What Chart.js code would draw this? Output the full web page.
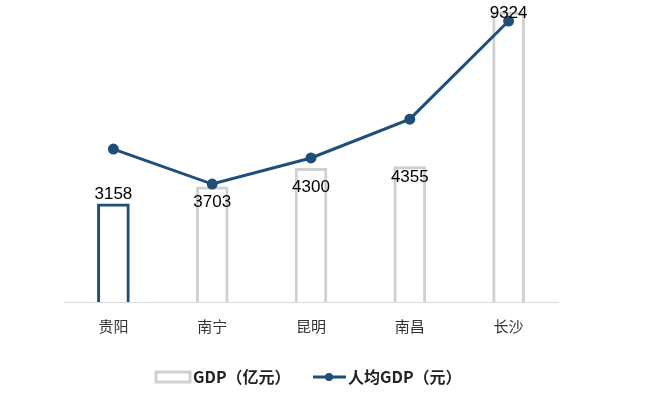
<!DOCTYPE html>
<html lang="zh">
<head>
    <meta charset="UTF-8">
    <title>GDP</title>
    <script src="https://cdn.jsdelivr.net/npm/chart.js"></script>
    <style>
        html, body { margin: 0; padding: 0; background: #fff; }
    </style>
</head>
<body>
    <canvas id="gdpChart" width="657" height="394"></canvas>
    <script>
        // 数据
        const cities = ['贵阳', '南宁', '昆明', '南昌', '长沙'];
        const gdp = [3158, 3703, 4300, 4355, 9324];            // 亿元
        const gdpPerCapita = [70900, 54700, 66800, 84800, 130300]; // 元

        const blue = '#1F4E79';
        const gray = '#D0D0D0';
        const cjk = '"Noto Sans CJK SC", "Noto Sans", sans-serif';

        // 标签的手动偏移（相对柱顶）
        const labelShift = [-9, 15, 19, 11, 1];

        const labelPlugin = {
            id: 'barLabels',
            afterDatasetsDraw(chart) {
                const ctx = chart.ctx;
                const meta = chart.getDatasetMeta(0);
                ctx.save();
                ctx.font = '17px "Liberation Sans", Arial, sans-serif';
                ctx.fillStyle = '#000';
                ctx.textAlign = 'center';
                ctx.textBaseline = 'middle';
                meta.data.forEach((bar, i) => {
                    ctx.fillText(String(gdp[i]), bar.x, bar.y + labelShift[i]);
                });
                ctx.restore();
            }
        };

        // 底部图例
        const legendPlugin = {
            id: 'customLegend',
            afterDraw(chart) {
                const ctx = chart.ctx;
                const y = 377;
                ctx.save();
                ctx.strokeStyle = gray;
                ctx.lineWidth = 3;
                ctx.strokeRect(156, y - 5, 34, 10);
                ctx.font = 'bold 16px ' + cjk;
                ctx.fillStyle = '#222';
                ctx.textBaseline = 'middle';
                ctx.fillText('GDP（亿元）', 193, y);

                ctx.strokeStyle = blue;
                ctx.beginPath();
                ctx.moveTo(313, y);
                ctx.lineTo(346, y);
                ctx.stroke();
                ctx.fillStyle = blue;
                ctx.beginPath();
                ctx.arc(329, y, 4, 0, Math.PI * 2);
                ctx.fill();
                ctx.fillStyle = '#222';
                ctx.fillText('人均GDP（元）', 348, y);
                ctx.restore();
            }
        };

        const ctx = document.getElementById('gdpChart').getContext('2d');
        new Chart(ctx, {
            data: {
                labels: cities,
                datasets: [
                    {
                        type: 'bar',
                        label: 'GDP（亿元）',
                        data: gdp,
                        backgroundColor: '#ffffff',
                        borderColor: gdp.map((v, i) => i === 0 ? blue : gray),
                        borderWidth: 3,
                        borderSkipped: 'bottom',
                        barThickness: 32,
                        yAxisID: 'y',
                        order: 2
                    },
                    {
                        type: 'line',
                        label: '人均GDP（元）',
                        data: gdpPerCapita,
                        borderColor: blue,
                        backgroundColor: blue,
                        borderWidth: 3,
                        pointRadius: 4,
                        pointHoverRadius: 4,
                        tension: 0,
                        yAxisID: 'y1',
                        order: 1
                    }
                ]
            },
            options: {
                responsive: false,
                animation: false,
                layout: {
                    padding: { left: 64, right: 99, top: 0, bottom: 58 }
                },
                plugins: {
                    legend: { display: false },
                    tooltip: { enabled: false }
                },
                scales: {
                    x: {
                        grid: { display: false, drawTicks: false },
                        border: { color: '#D9D9D9', width: 1 },
                        ticks: {
                            color: '#333',
                            padding: 15,
                            font: { family: cjk, size: 15 }
                        },
                        afterFit(scale) { scale.height = 34; }
                    },
                    y: {
                        display: false,
                        min: 0,
                        max: 9485
                    },
                    y1: {
                        display: false,
                        min: 0,
                        max: 136800
                    }
                }
            },
            plugins: [labelPlugin, legendPlugin]
        });
    </script>
</body>
</html>
